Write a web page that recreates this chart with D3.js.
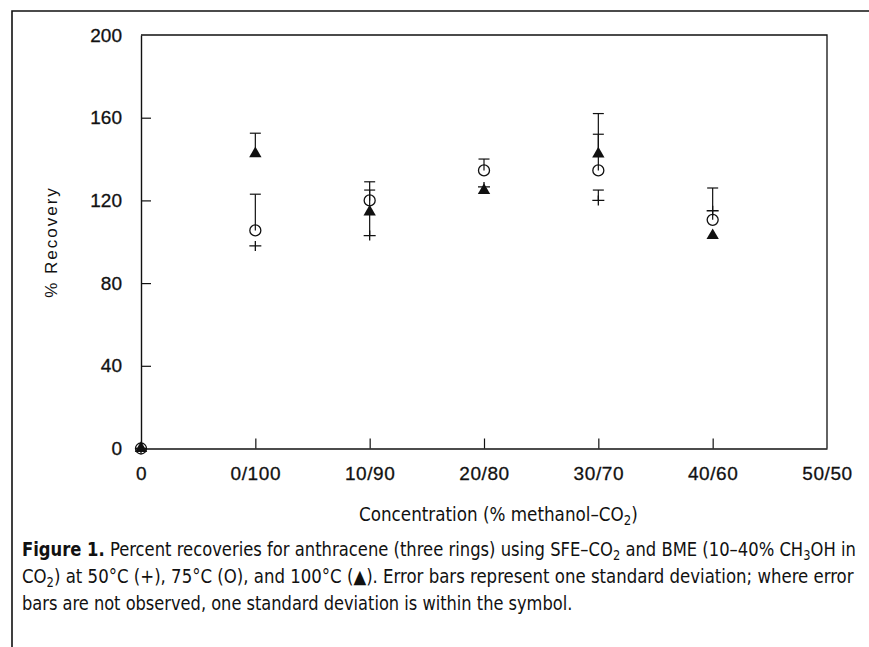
<!DOCTYPE html>
<html>
<head>
<meta charset="utf-8">
<script src="https://cdn.jsdelivr.net/npm/d3@7"></script>
<style>
  body { margin: 0; background: #fff; }
  svg { display: block; }
</style>
</head>
<body>
<div id="chart"></div>
<script>
// categories on the x axis
var categories = ['0', '0/100', '10/90', '20/80', '30/70', '40/60', '50/50'];
var yTicks = [0, 40, 80, 120, 160, 200];

// % recovery at 50C (+), 75C (O), 100C (triangle); null = no point
var plus50 = [0, 98, 103, 126.5, 120, 115, null];
var circle75 = [0, 105.5, 120, 134.5, 134.5, 110.6, null];
var tri100 = [0, 142.6, 114.4, 124.8, 142.5, 103, null];

// upper end of error bars (only the upper half is visible)
var plus50Err = [null, null, 125, null, 125, null, null];
var circle75Err = [null, 123, 129, 140, 162, 126, null];
var tri100Err = [null, 152.5, null, null, 152, null, null];

var W = 869, H = 647;
var pLeft = 141, pRight = 827, pTop = 35, pBottom = 448.5;
var sans = '"Liberation Sans", Arial, sans-serif';

var svg = d3.select('#chart').append('svg')
  .attr('width', W).attr('height', H);

// page frame
svg.append('path')
  .attr('d', 'M12,' + H + 'V11H' + W)
  .attr('fill', 'none').attr('stroke', '#111').attr('stroke-width', 1.6);

var x = d3.scalePoint().domain(categories).range([pLeft, pRight]);
var y = d3.scaleLinear().domain([0, 200]).range([pBottom, pTop]);

// plot frame (top and right)
svg.append('path')
  .attr('d', 'M' + pLeft + ',' + pTop + 'H' + pRight + 'V' + pBottom)
  .attr('fill', 'none').attr('stroke', '#111').attr('stroke-width', 1.3);

// x axis
var xAxis = svg.append('g')
  .attr('transform', 'translate(0,' + pBottom + ')')
  .call(d3.axisBottom(x).tickSize(0).tickPadding(18));
xAxis.select('.domain').attr('stroke', '#111').attr('stroke-width', 1.4);
xAxis.selectAll('.tick text')
  .attr('font-family', sans).attr('font-size', 19).attr('letter-spacing', 0.6)
  .attr('fill', '#111').attr('stroke', '#111').attr('stroke-width', 0.3);
xAxis.selectAll('.tick')
  .filter(function(d, i){ return i > 0 && i < categories.length - 1; })
  .append('line')
  .attr('y2', -10).attr('stroke', '#111').attr('stroke-width', 1.2);

// y axis
var yAxis = svg.append('g')
  .attr('transform', 'translate(' + pLeft + ',0)')
  .call(d3.axisLeft(y).tickValues(yTicks).tickSize(0).tickPadding(19));
yAxis.select('.domain').attr('stroke', '#111').attr('stroke-width', 1.4);
yAxis.selectAll('.tick text')
  .attr('font-family', sans).attr('font-size', 19)
  .attr('fill', '#111').attr('stroke', '#111').attr('stroke-width', 0.3);
yAxis.selectAll('.tick')
  .filter(function(d){ return d > 0 && d < 200; })
  .append('line')
  .attr('x2', 10).attr('stroke', '#111').attr('stroke-width', 1.2);

// axis title
svg.append('text')
  .attr('transform', 'translate(57,242) rotate(-90)')
  .attr('text-anchor', 'middle')
  .attr('font-family', sans)
  .attr('font-size', 17).attr('letter-spacing', 2).attr('fill', '#111')
  .text('% Recovery');

// error bars
function errBars(vals, tops){
  var d = categories.map(function(c, i){ return { c: c, v: vals[i], t: tops[i] }; })
    .filter(function(e){ return e.t != null; });
  var g = svg.append('g').attr('stroke', '#111').attr('stroke-width', 1.2);
  g.selectAll('line.v').data(d).enter().append('line')
    .attr('x1', function(e){ return x(e.c); }).attr('x2', function(e){ return x(e.c); })
    .attr('y1', function(e){ return y(e.v); }).attr('y2', function(e){ return y(e.t); });
  g.selectAll('line.cap').data(d).enter().append('line')
    .attr('x1', function(e){ return x(e.c) - 5.5; }).attr('x2', function(e){ return x(e.c) + 5.5; })
    .attr('y1', function(e){ return y(e.t); }).attr('y2', function(e){ return y(e.t); });
}
errBars(plus50, plus50Err);
errBars(circle75, circle75Err);
errBars(tri100, tri100Err);

function pts(vals){
  return categories.map(function(c, i){ return { c: c, v: vals[i] }; })
    .filter(function(e){ return e.v != null; });
}

// 100C triangles
svg.append('g').selectAll('path').data(pts(tri100)).enter().append('path')
  .attr('transform', function(e){ return 'translate(' + x(e.c) + ',' + y(e.v) + ')'; })
  .attr('d', d3.symbol().type(d3.symbolTriangle).size(66))
  .attr('fill', '#111');

// 75C circles
svg.append('g').selectAll('circle').data(pts(circle75)).enter().append('circle')
  .attr('cx', function(e){ return x(e.c); })
  .attr('cy', function(e){ return y(e.v); })
  .attr('r', 5.5)
  .attr('fill', 'none').attr('stroke', '#111').attr('stroke-width', 1.3);

// 50C plus
svg.append('g').selectAll('path').data(pts(plus50)).enter().append('path')
  .attr('transform', function(e){ return 'translate(' + x(e.c) + ',' + y(e.v) + ')'; })
  .attr('d', 'M-6,0H6M0,-5V5')
  .attr('fill', 'none').attr('stroke', '#111').attr('stroke-width', 1.3);

// fit text to a width by horizontal scaling
var narrow = '"Liberation Sans Narrow", "DejaVu Sans Condensed", "Liberation Sans", sans-serif';
function fitText(t, x0, y0, w){
  var bw = t.node().getComputedTextLength();
  t.attr('transform', 'translate(' + x0 + ',' + y0 + ') scale(' + (w / bw) + ',1)');
}
function line(parts, x0, y0, w, size){
  var t = svg.append('text').attr('font-family', narrow).attr('font-size', size).attr('fill', '#111');
  var back = 0;
  parts.forEach(function(p){
    var s = t.append('tspan').text(p.s);
    if (p.sub) {
      s.attr('font-size', size * 0.7).attr('dy', 4);
      back = -4;
    } else {
      if (back) s.attr('dy', back);
      back = 0;
      if (p.b) s.attr('font-weight', 'bold');
    }
  });
  fitText(t, x0, y0, w);
}

line([{ s: 'Concentration (% methanol\u2013CO' }, { s: '2', sub: true }, { s: ')' }], 359, 521, 279, 19);

line([{ s: 'Figure 1.', b: true },
      { s: ' Percent recoveries for anthracene (three rings) using SFE\u2013CO' }, { s: '2', sub: true },
      { s: ' and BME (10\u201340% CH' }, { s: '3', sub: true }, { s: 'OH in' }], 22, 556, 834, 19);
line([{ s: 'CO' }, { s: '2', sub: true },
      { s: ') at 50\u00b0C (+), 75\u00b0C (O), and 100\u00b0C (\u25b2). Error bars represent one standard deviation; where error' }],
     22, 583, 832, 19);
line([{ s: 'bars are not observed, one standard deviation is within the symbol.' }], 22, 610, 551, 19);
</script>
</body>
</html>
